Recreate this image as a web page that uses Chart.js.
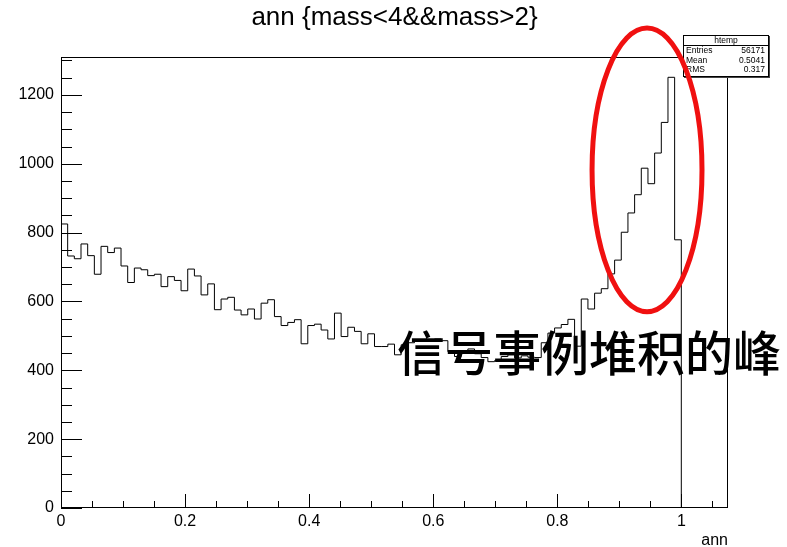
<!DOCTYPE html>
<html>
<head>
<meta charset="utf-8">
<title>ann</title>
<script src="https://cdn.jsdelivr.net/npm/chart.js@4"></script>
<style>
  html, body { margin: 0; padding: 0; background: #fff; }
</style>
</head>
<body>
<canvas id="hist" width="787" height="547"></canvas>
<script>
// histogram range, 100 bins
const xMin = 0
const xMax = 1.075
const yMax = 1310

// bin contents of htemp (ann for 2 < mass < 4)
const counts = [
  825, 732, 724, 767, 733, 679, 760, 742, 755, 703,
  655, 697, 692, 675, 679, 643, 672, 661, 631, 694,
  674, 619, 651, 576, 607, 612, 575, 561, 578, 549,
  595, 605, 556, 530, 539, 547, 477, 530, 534, 517,
  491, 566, 498, 525, 513, 477, 506, 469, 469, 476,
  445, 474, 480, 486, 485, 487, 491, 486, 454, 440,
  455, 462, 448, 437, 425, 428, 440, 445, 436, 442,
  438, 437, 480, 508, 523, 533, 548, 470, 607, 578,
  624, 637, 680, 720, 801, 857, 910, 987, 942, 1031,
  1120, 1251, 779, 0, 0, 0, 0, 0, 0, 0
]

// stats box
const statsTitle = 'htemp'
const statsNames = ['Entries', 'Mean', 'RMS']
const statsValues = ['56171', '0.5041', '0.317']

const titleText = 'ann {mass<4&&mass>2}'
const axisTitle = 'ann'
const noteText = '信号事例堆积的峰'

// annotation placement, in axis units
const note = { x: 0.5415, y: 450 }
const ring = { x: 0.9445, y: 982, rx: 0.0886, ry: 412 }

const sans = '"Liberation Sans", Arial, Helvetica, sans-serif'

const binWidth = (xMax - xMin) / counts.length
const outline = counts.map((c, i) => ({ x: xMin + i * binWidth, y: c }))
outline.push({ x: xMax, y: counts[counts.length - 1] })

const decor = {
  id: 'decor',
  afterDatasetsDraw(chart) {
    const { ctx, chartArea: a, scales: { x, y } } = chart
    ctx.save()
    ctx.strokeStyle = '#000'
    ctx.lineWidth = 1

    // frame
    ctx.strokeRect(a.left + 0.5, a.top + 0.5, a.right - a.left - 1, a.bottom - a.top - 1)

    // tick marks point into the frame
    ctx.beginPath()
    for (let v = 0; v <= yMax; v += 50) {
      const py = Math.round(y.getPixelForValue(v)) + 0.5
      const len = v % 200 === 0 ? 21 : 11
      ctx.moveTo(a.left, py)
      ctx.lineTo(a.left + len, py)
    }
    for (let i = 0; i * 0.05 <= xMax + 1e-9; i++) {
      const px = Math.round(x.getPixelForValue(i * 0.05)) + 0.5
      const len = i % 4 === 0 ? 14 : 7
      ctx.moveTo(px, a.bottom)
      ctx.lineTo(px, a.bottom - len)
    }
    ctx.stroke()

    // title and axis title
    ctx.fillStyle = '#000'
    ctx.textAlign = 'center'
    ctx.textBaseline = 'middle'
    ctx.font = '26px ' + sans
    ctx.fillText(titleText, (a.left + a.right) / 2, 18)
    ctx.textAlign = 'right'
    ctx.font = '16px ' + sans
    ctx.fillText(axisTitle, a.right, 541)

    // stats box
    const bx = 683, by = 35, bw = 86, bh = 42
    ctx.fillStyle = '#444'
    ctx.fillRect(bx + 1, by + 1, bw, bh)
    ctx.fillStyle = '#fff'
    ctx.fillRect(bx, by, bw, bh)
    ctx.strokeRect(bx + 0.5, by + 0.5, bw - 1, bh - 1)
    ctx.beginPath()
    ctx.moveTo(bx, by + 10.5)
    ctx.lineTo(bx + bw, by + 10.5)
    ctx.stroke()
    ctx.fillStyle = '#000'
    ctx.font = '8.5px ' + sans
    ctx.textAlign = 'center'
    ctx.fillText(statsTitle, bx + bw / 2, by + 5.5)
    statsNames.forEach((name, i) => {
      const ty = by + 16 + i * 9.5
      ctx.textAlign = 'left'
      ctx.fillText(name, bx + 3, ty)
      ctx.textAlign = 'right'
      ctx.fillText(statsValues[i], bx + bw - 4, ty)
    })

    // marked peak
    const cx = x.getPixelForValue(ring.x), cy = y.getPixelForValue(ring.y)
    const rx = x.getPixelForValue(ring.x + ring.rx) - cx
    const ry = cy - y.getPixelForValue(ring.y + ring.ry)
    ctx.beginPath()
    ctx.ellipse(cx, cy, rx, ry, 0, 0, Math.PI * 2)
    ctx.strokeStyle = '#f01010'
    ctx.lineWidth = 5
    ctx.stroke()

    ctx.fillStyle = '#000'
    ctx.textAlign = 'left'
    ctx.textBaseline = 'middle'
    ctx.font = '500 48px "Noto Sans CJK SC", sans-serif'
    ctx.fillText(noteText, x.getPixelForValue(note.x), y.getPixelForValue(note.y))
    ctx.restore()
  }
}

const tickFont = { family: sans, size: 16 }

new Chart(document.getElementById('hist'), {
  type: 'line',
  data: {
    datasets: [{
      label: 'htemp',
      data: outline,
      stepped: true,
      borderColor: '#000',
      borderWidth: 1,
      pointRadius: 0,
      fill: false
    }]
  },
  options: {
    responsive: false,
    animation: false,
    layout: { padding: { top: 57, right: 59, bottom: 0, left: 0 } },
    plugins: {
      legend: { display: false },
      tooltip: { enabled: false }
    },
    scales: {
      x: {
        type: 'linear',
        min: xMin,
        max: xMax,
        grid: { display: false, drawTicks: false },
        border: { display: false },
        ticks: {
          stepSize: 0.2,
          includeBounds: false,
          maxRotation: 0,
          padding: 4,
          color: '#000',
          font: tickFont,
          callback: v => String(+v.toFixed(2))
        },
        afterFit: s => { s.height = 39 }
      },
      y: {
        min: 0,
        max: yMax,
        grid: { display: false, drawTicks: false },
        border: { display: false },
        ticks: {
          stepSize: 200,
          includeBounds: false,
          padding: 7,
          color: '#000',
          font: tickFont,
          callback: v => String(v)
        },
        afterFit: s => { s.width = 61 }
      }
    }
  },
  plugins: [decor]
})
</script>
</body>
</html>
